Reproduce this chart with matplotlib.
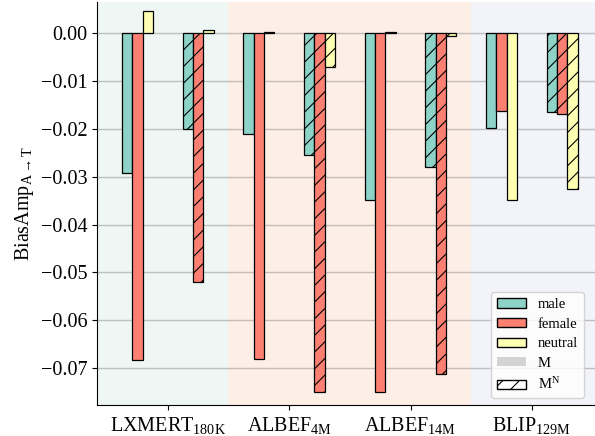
import numpy as np
import matplotlib
matplotlib.use('Agg')
import matplotlib.pyplot as plt
from matplotlib.patches import Patch

# Datos
modelos = [r'LXMERT$_{\mathrm{180K}}$', r'ALBEF$_{\mathrm{4M}}$',
           r'ALBEF$_{\mathrm{14M}}$', r'BLIP$_{\mathrm{129M}}$']
generos = ['male', 'female', 'neutral']

# BiasAmp con M (sin hatch)
male_M = [-0.0293, -0.0210, -0.0348, -0.0198]
female_M = [-0.0684, -0.0681, -0.0749, -0.0163]
neutral_M = [0.0046, 0.0003, 0.0003, -0.0348]

# BiasAmp con M^N (con hatch)
male_MN = [-0.0200, -0.0255, -0.0279, -0.0164]
female_MN = [-0.0520, -0.0749, -0.0712, -0.0169]
neutral_MN = [0.0006, -0.0070, -0.0007, -0.0326]

colores = ['#8dd3c7', '#fb8072', '#ffffb3']
fondos = [(-0.6, 0.5, '#eef7f3'), (0.5, 2.5, '#fdeee6'), (2.5, 3.6, '#f3f4f9')]

plt.rcParams['font.family'] = 'Liberation Serif'
plt.rcParams['mathtext.fontset'] = 'custom'
plt.rcParams['mathtext.rm'] = 'Liberation Serif'
plt.rcParams['mathtext.it'] = 'Liberation Serif:italic'
plt.rcParams['hatch.linewidth'] = 0.8

fig = plt.figure(figsize=(5.95, 4.36), dpi=100)
ax = fig.add_axes([97 / 595, 31 / 436, 1 - 97 / 595, 1 - 33 / 436])

# Fondos de color por grupo de modelos
for x0, x1, c in fondos:
    ax.axvspan(x0, x1, color=c, zorder=0, lw=0)

x = np.arange(len(modelos))
ancho = 0.085
desplaz = 0.25

series_M = [male_M, female_M, neutral_M]
series_MN = [male_MN, female_MN, neutral_MN]
for k in range(3):
    ax.bar(x - desplaz + (k - 1) * ancho, series_M[k], ancho, color=colores[k],
           edgecolor='black', linewidth=0.9, zorder=3)
    ax.bar(x + desplaz + (k - 1) * ancho, series_MN[k], ancho, color=colores[k],
           edgecolor='black', linewidth=0.9, hatch='//', zorder=3)

ax.set_xlim(-0.583, 3.52)
ax.set_ylim(-0.0777, 0.0065)
ax.set_yticks(np.arange(-0.07, 0.001, 0.01))
ax.yaxis.set_major_formatter(matplotlib.ticker.FuncFormatter(
    lambda v, p: ('%.2f' % v).replace('-', '\u2212')))
ax.set_xticks(x)
ax.set_xticklabels(modelos)
ax.tick_params(labelsize=14.5)
ax.grid(axis='y', color='grey', alpha=0.45, lw=1, zorder=1)
ax.set_axisbelow(True)
ax.set_ylabel(r'BiasAmp$_{\mathrm{A{\to}T}}$', fontsize=14.5, labelpad=3)
ax.spines['top'].set_visible(False)
ax.spines['right'].set_visible(False)

# Leyenda
manejadores = [Patch(facecolor=colores[k], edgecolor='black', label=generos[k]) for k in range(3)]
manejadores.append(Patch(facecolor='lightgrey', edgecolor='none', label='M'))
manejadores.append(Patch(facecolor='white', edgecolor='black', hatch='//', label=r'M$^{\mathrm{N}}$'))
ax.legend(handles=manejadores, loc='lower right', fontsize=10.5, bbox_to_anchor=(0.978, 0.017),
          borderaxespad=0, handlelength=2.0, handleheight=0.6, labelspacing=0.45)

fig.savefig('out.png', dpi=100)
